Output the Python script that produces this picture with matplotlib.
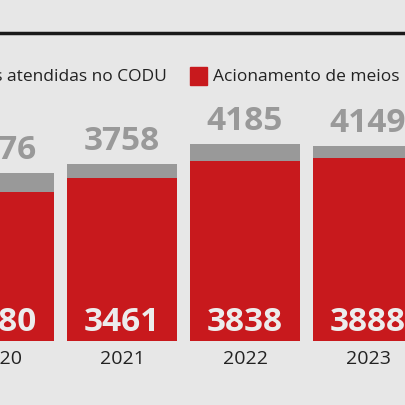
import matplotlib
matplotlib.use("Agg")
import matplotlib.pyplot as plt

years = ["2020", "2021", "2022", "2023"]
chamadas = [3576, 3758, 4185, 4149]
acionamento = [3180, 3461, 3838, 3888]

bg = "#e7e7e7"
gray = "#999999"
red = "#c8191d"
fam = ["Open Sans", "DejaVu Sans"]

fig = plt.figure(figsize=(4.06, 4.06), dpi=100, facecolor=bg)
ax = fig.add_axes([0, 0, 1, 1])
ax.set_facecolor(bg)
x = list(range(len(years)))
w = 0.89
ax.bar(x, chamadas, width=w, color=gray)
ax.bar(x, acionamento, width=w, color=red)
for xi, c, a, yr in zip(x, chamadas, acionamento, years):
    ax.text(xi, c + 150, str(c), ha="center", va="bottom", color=gray,
            fontsize=24, fontweight="bold", family=fam)
    ax.text(xi, 420, str(a), ha="center", va="center", color="#ececec",
            fontsize=24, fontweight="bold", family=fam)
    ax.text(xi, -360, yr, ha="center", va="center", color="#222222",
            fontsize=14, family=fam)
ax.set_xlim(0.008, 0.008 + 406 / 123)
ax.set_ylim(-1362, 7277)
ax.axis("off")

# top rule
fig.add_artist(plt.Line2D([0, 1], [1 - 34 / 406] * 2, color="#1a1a1a", lw=2.5))
# legend
ly = 1 - 77 / 406
fig.text(167 / 406, ly, "Chamadas atendidas no CODU", ha="right", va="center",
         fontsize=12.5, color="#222222", family=fam)
fig.add_artist(plt.Rectangle((190 / 406, ly - 9 / 406), 17 / 406, 18 / 406,
                             color=red, transform=fig.transFigure))
fig.text(213 / 406, ly, "Acionamento de meios", ha="left", va="center",
         fontsize=12.5, color="#222222", family=fam)

fig.savefig("out.png", dpi=100, facecolor=bg)
